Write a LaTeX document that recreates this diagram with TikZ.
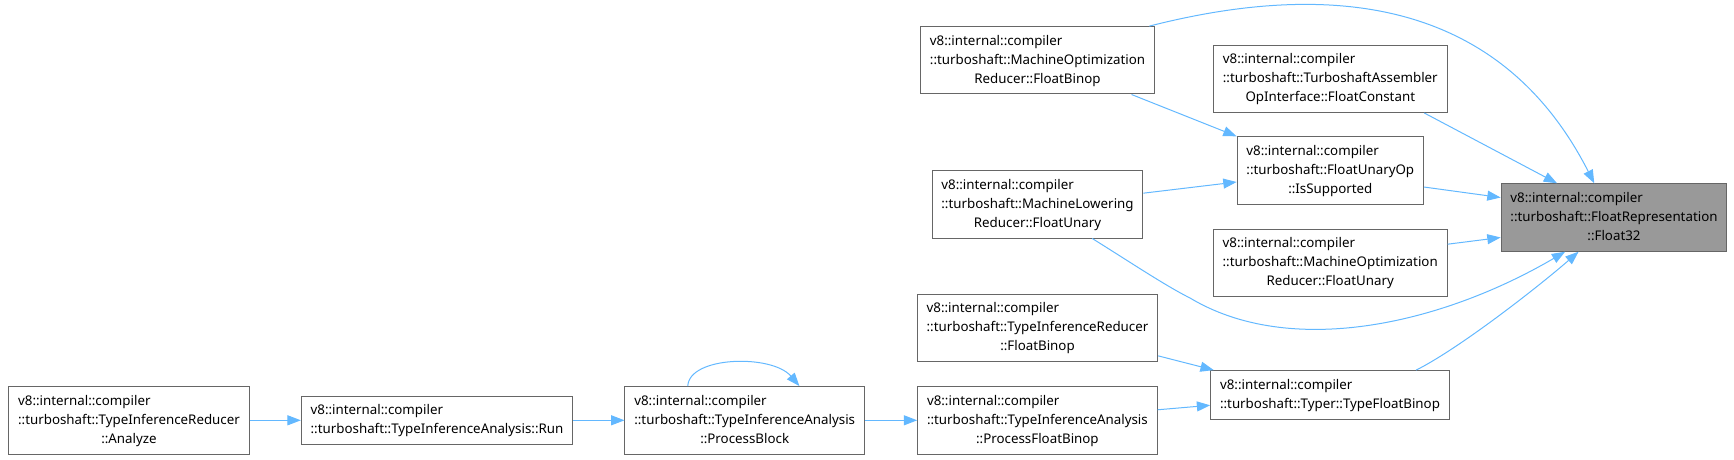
\documentclass[tikz,border=0pt]{standalone}
\usepackage{fontspec}
\setmainfont{Noto Sans}
\usepackage{tikz}
\usetikzlibrary{arrows.meta}
\definecolor{callblue}{HTML}{63B8FF}
\definecolor{framegray}{HTML}{666666}
\definecolor{focusgray}{HTML}{999999}
\newcommand{\twoline}[2]{\begin{tabular}{@{}l@{}}#1\\#2\end{tabular}}
\newcommand{\threeline}[3]{\begin{tabular}{@{}l@{}}#1\\#2\\\multicolumn{1}{@{}c@{}}{#3}\end{tabular}}
\tikzset{
  fnbox/.style={draw=framegray,line width=0.75pt,fill=white,inner xsep=7pt,inner ysep=3.9pt,font=\fontsize{10}{14.25}\selectfont},
  focusbox/.style={fnbox,fill=focusgray},
  call/.style={draw=callblue,line width=0.75pt,-{Triangle[length=10pt,width=7.5pt]}}
}
\begin{document}
\begin{tikzpicture}[x=0.75pt,y=-0.75pt]
\useasboundingbox (0,0) rectangle (1734,460);
\node[focusbox] (float32) at (1614,217.5) {\threeline{v8::internal::compiler}{::turboshaft::FloatRepresentation}{::Float32}};
\node[fnbox] (mobinop) at (1037.5,60.3) {\threeline{v8::internal::compiler}{::turboshaft::MachineOptimization}{Reducer::FloatBinop}};
\node[fnbox] (fconst) at (1330.3,78.8) {\threeline{v8::internal::compiler}{::turboshaft::TurboshaftAssembler}{OpInterface::FloatConstant}};
\node[fnbox] (issup) at (1330.3,170.5) {\threeline{v8::internal::compiler}{::turboshaft::FloatUnaryOp}{::IsSupported}};
\node[fnbox] (mlrunary) at (1037.5,204.3) {\threeline{v8::internal::compiler}{::turboshaft::MachineLowering}{Reducer::FloatUnary}};
\node[fnbox] (mounary) at (1330.2,262.8) {\threeline{v8::internal::compiler}{::turboshaft::MachineOptimization}{Reducer::FloatUnary}};
\node[fnbox] (tirbinop) at (1037.5,328) {\threeline{v8::internal::compiler}{::turboshaft::TypeInferenceReducer}{::FloatBinop}};
\node[fnbox] (typer) at (1330,394.8) {\twoline{v8::internal::compiler}{::turboshaft::Typer::TypeFloatBinop}};
\node[fnbox] (pfbinop) at (1037.4,420.3) {\threeline{v8::internal::compiler}{::turboshaft::TypeInferenceAnalysis}{::ProcessFloatBinop}};
\node[fnbox] (pblock) at (744.7,420.3) {\threeline{v8::internal::compiler}{::turboshaft::TypeInferenceAnalysis}{::ProcessBlock}};
\node[fnbox] (run) at (437,420.3) {\twoline{v8::internal::compiler}{::turboshaft::TypeInferenceAnalysis::Run}};
\node[fnbox] (analyze) at (129,420.3) {\threeline{v8::internal::compiler}{::turboshaft::TypeInferenceReducer}{::Analyze}};
\draw[call] (mobinop.17) .. controls (1330,-20) and (1500,-2) .. (float32.120);
\draw[call] (fconst.-20) -- (float32.149);
\draw[call] (issup.-10) -- (float32.170);
\draw[call] (mounary.9) -- (float32.190);
\draw[call] (mlrunary.-32) .. controls (1130,262) and (1165,285.5) .. (1190,298) .. controls (1290,358) and (1440,325) .. (float32.215);
\draw[call] (typer.16) .. controls (1460,348) and (1538,287) .. (float32.224);
\draw[call] (mobinop.-20) -- (issup.north west);
\draw[call] (mlrunary.6) -- (issup.187);
\draw[call] (tirbinop.-13) -- (typer.168);
\draw[call] (pfbinop.5) -- (typer.185);
\draw[call] (pblock.149) .. controls (689,356) and (772,354) .. (pblock.32);
\draw[call] (pblock.east) -- (pfbinop.west);
\draw[call] (run.east) -- (pblock.west);
\draw[call] (analyze.east) -- (run.west);
\end{tikzpicture}
\end{document}
